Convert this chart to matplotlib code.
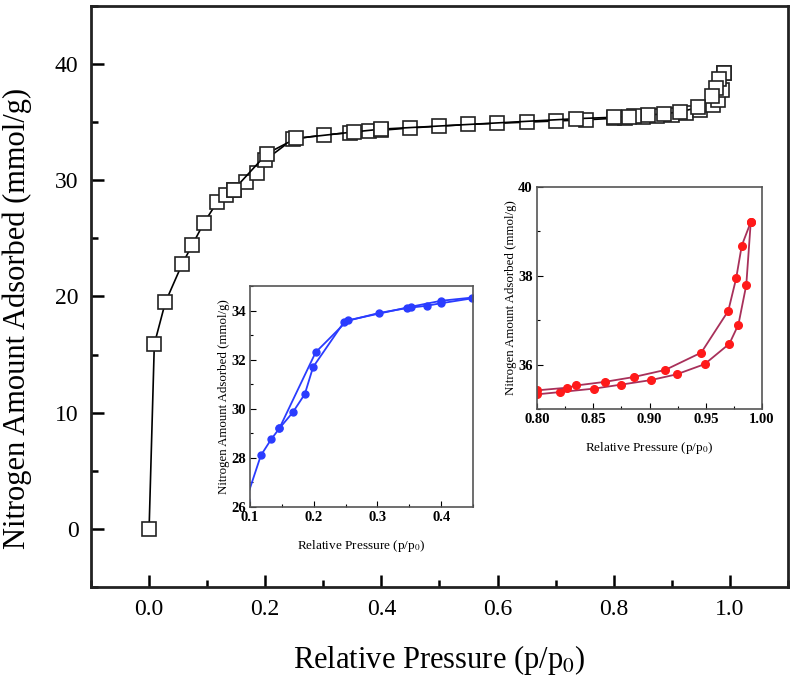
import numpy as np
import matplotlib
matplotlib.use("Agg")
import matplotlib.pyplot as plt
from matplotlib.ticker import MultipleLocator

plt.rcParams['font.family'] = ['Liberation Serif', 'DejaVu Serif']
plt.rcParams['mathtext.fontset'] = 'stix'

# adsorption branch (p/p0, mmol/g)
ads_x = [0.0, 0.009, 0.028, 0.057, 0.074, 0.094, 0.117, 0.133, 0.146, 0.167, 0.186, 0.199,
         0.248, 0.302, 0.346, 0.378, 0.400, 0.449, 0.499, 0.549, 0.599, 0.650, 0.700, 0.752,
         0.800, 0.820, 0.851, 0.875, 0.901, 0.924, 0.949, 0.971, 0.979, 0.986, 0.990]
ads_y = [0.0, 15.9, 19.5, 22.8, 24.4, 26.3, 28.1, 28.75, 29.2, 29.85, 30.6, 31.7,
         33.55, 33.9, 34.1, 34.2, 34.3, 34.5, 34.65, 34.8, 34.9, 35.0, 35.1, 35.2,
         35.33, 35.38, 35.46, 35.55, 35.65, 35.78, 36.01, 36.47, 36.9, 37.79, 39.21]

# desorption branch
des_x = [0.990, 0.982, 0.977, 0.970, 0.946, 0.914, 0.886, 0.860, 0.835, 0.827, 0.800,
         0.736, 0.400, 0.353, 0.253, 0.203, 0.146]
des_y = [39.21, 38.68, 37.94, 37.21, 36.27, 35.88, 35.72, 35.61, 35.53, 35.48, 35.42,
         35.3, 34.4, 34.16, 33.6, 32.3, 29.2]

fig = plt.figure(figsize=(7.95, 6.82), dpi=100)
ax = fig.add_axes([0.1145, 0.1393, 0.8765, 0.852])

for xs, ys in [(ads_x, ads_y), (des_x, des_y)]:
    ax.plot(xs, ys, color="black", lw=1.2, marker="s", ms=9.5,
            mfc="white", mec="#222222", mew=1.2)

ax.set_xlim(-0.1, 1.1)
ax.set_ylim(-5, 45)
ax.xaxis.set_major_locator(MultipleLocator(0.2))
ax.xaxis.set_minor_locator(MultipleLocator(0.1))
ax.yaxis.set_major_locator(MultipleLocator(10))
ax.yaxis.set_minor_locator(MultipleLocator(5))
ax.tick_params(which="both", direction="in", width=1.8, labelsize=17, pad=9)
ax.tick_params(which="major", length=9)
ax.tick_params(which="minor", length=5)
ax.xaxis.set_major_formatter(matplotlib.ticker.FormatStrFormatter("%.1f"))
for s in ax.spines.values():
    s.set_linewidth(2)
    s.set_color("#222222")
ax.set_xlabel("Relative Pressure (p/p$_0$)", fontsize=22, labelpad=16)
ax.set_ylabel("Nitrogen Amount Adsorbed (mmol/g)", fontsize=22)
ax.yaxis.set_label_coords(-0.085, 0.463)


def style_inset(a):
    a.tick_params(which="both", direction="in", labelsize=10.5, pad=3, width=0.8)
    a.tick_params(which="major", length=4)
    a.tick_params(which="minor", length=2)
    for s in a.spines.values():
        s.set_linewidth(1.2)
        s.set_color("#555555")
    for lab in a.get_xticklabels() + a.get_yticklabels():
        lab.set_fontweight("bold")
    a.set_xlabel("Relative Pressure (p/p$_0$)", fontsize=9.5, labelpad=10)
    a.set_ylabel("Nitrogen Amount Adsorbed (mmol/g)", fontsize=9.3, labelpad=1)


# low pressure inset
ax1 = fig.add_axes([0.3145, 0.2566, 0.2805, 0.324])
for xs, ys in [(ads_x, ads_y), (des_x, des_y)]:
    ax1.plot(xs, ys, color="#2a3cff", lw=1.3, marker="o", ms=5, mfc="#2a3cff", mec="#2a3cff")
ax1.set_xlim(0.1, 0.45)
ax1.set_ylim(26, 35)
ax1.xaxis.set_major_locator(MultipleLocator(0.1))
ax1.xaxis.set_minor_locator(MultipleLocator(0.05))
ax1.yaxis.set_major_locator(MultipleLocator(2))
ax1.yaxis.set_minor_locator(MultipleLocator(1))
ax1.xaxis.set_major_formatter(matplotlib.ticker.FormatStrFormatter("%.1f"))
style_inset(ax1)

# high pressure inset
ax2 = fig.add_axes([0.6755, 0.4003, 0.283, 0.3255])
for xs, ys in [(ads_x, ads_y), (des_x, des_y)]:
    ax2.plot(xs, ys, color="#a8305a", lw=1.3, marker="o", ms=5.5, mfc="#ff1a1a", mec="#ff1a1a")
ax2.set_xlim(0.8, 1.0)
ax2.set_ylim(35, 40)
ax2.xaxis.set_major_locator(MultipleLocator(0.05))
ax2.xaxis.set_minor_locator(MultipleLocator(0.025))
ax2.yaxis.set_major_locator(MultipleLocator(2))
ax2.yaxis.set_minor_locator(MultipleLocator(1))
ax2.xaxis.set_major_formatter(matplotlib.ticker.FormatStrFormatter("%.2f"))
style_inset(ax2)

fig.savefig("out.png", dpi=100)
